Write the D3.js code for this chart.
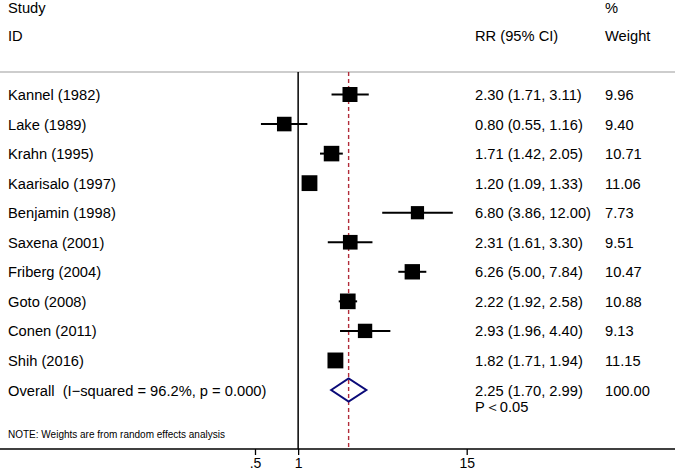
<!DOCTYPE html>
<html>
<head>
<meta charset="utf-8">
<script src="https://cdn.jsdelivr.net/npm/d3@7"></script>
<style>
  html, body { margin: 0; padding: 0; background: #fff; }
  svg { display: block; }
  text { font-family: "Liberation Sans", Helvetica, Arial, sans-serif; fill: #000; white-space: pre; }
</style>
</head>
<body>
<svg id="chart" width="675" height="472"></svg>
<script>
// ---- data ----
const studies = ["Kannel (1982)", "Lake (1989)", "Krahn (1995)", "Kaarisalo (1997)", "Benjamin (1998)",
                 "Saxena (2001)", "Friberg (2004)", "Goto (2008)", "Conen (2011)", "Shih (2016)"];
const rr     = [2.30, 0.80, 1.71, 1.20, 6.80, 2.31, 6.26, 2.22, 2.93, 1.82];
const lower  = [1.71, 0.55, 1.42, 1.09, 3.86, 1.61, 5.00, 1.92, 1.96, 1.71];
const upper  = [3.11, 1.16, 2.05, 1.33, 12.00, 3.30, 7.84, 2.58, 4.40, 1.94];
const weights = [9.96, 9.40, 10.71, 11.06, 7.73, 9.51, 10.47, 10.88, 9.13, 11.15];
const overallLabel = "Overall  (I\u2212squared = 96.2%, p = 0.000)";
const overall = {rr: 2.25, lo: 1.70, hi: 2.99, weight: 100.00};
const pText = "P\uFF1C0.05";
const noteText = "NOTE: Weights are from random effects analysis";
const tickValues = [0.5, 1, 15];
const tickLabels = [".5", "1", "15"];

// ---- layout ----
const W = 675, H = 472;
const svg = d3.select("#chart");
const x = d3.scaleLog().domain([0.5, 15]).range([255, 466.7]);
const y = d3.scaleLinear().domain([0, studies.length]).range([94.5, 390]);
const fs = "14.7px";
const colRR = 475, colW = 605, colL = 8;
const topRule = 72, axisY = 449;

// headers
const hdr = [
  {t: "Study", x: colL, y: 13}, {t: "ID", x: colL, y: 41},
  {t: "RR (95% CI)", x: colRR, y: 41}, {t: "%", x: colW, y: 13}, {t: "Weight", x: colW, y: 41}
];
svg.selectAll("text.hdr").data(hdr).join("text").attr("class", "hdr")
  .attr("x", d => d.x).attr("y", d => d.y).style("font-size", fs).text(d => d.t);

// top rule
svg.append("line").attr("x1", 0).attr("x2", W).attr("y1", topRule).attr("y2", topRule)
  .attr("stroke", "#bdbdbd").attr("stroke-width", 1.5);

// null line at 1
svg.append("line").attr("x1", x(1)).attr("x2", x(1)).attr("y1", topRule).attr("y2", axisY)
  .attr("stroke", "#000").attr("stroke-width", 1.5);

// overall dashed line
svg.append("line").attr("x1", x(overall.rr)).attr("x2", x(overall.rr)).attr("y1", topRule).attr("y2", axisY)
  .attr("stroke", "#b22c3a").attr("stroke-width", 1.4).attr("stroke-dasharray", "4,3");

// study rows
const rows = studies.map((s, i) => ({s, i, rr: rr[i], lo: lower[i], hi: upper[i], w: weights[i]}));
const f2 = d3.format(".2f");

const g = svg.append("g");
g.selectAll("line.ci").data(rows).join("line").attr("class", "ci")
  .attr("x1", d => x(d.lo)).attr("x2", d => x(d.hi))
  .attr("y1", d => y(d.i)).attr("y2", d => y(d.i))
  .attr("stroke", "#000").attr("stroke-width", 2);
const side = d => 4.75 * Math.sqrt(d.w);
g.selectAll("rect.box").data(rows).join("rect").attr("class", "box")
  .attr("x", d => x(d.rr) - side(d) / 2).attr("y", d => y(d.i) - side(d) / 2)
  .attr("width", side).attr("height", side).attr("fill", "#000");

g.selectAll("text.study").data(rows).join("text").attr("class", "study")
  .attr("x", colL).attr("y", d => y(d.i) + 5.5).style("font-size", fs).text(d => d.s);
g.selectAll("text.est").data(rows).join("text").attr("class", "est")
  .attr("x", colRR).attr("y", d => y(d.i) + 5.5).style("font-size", fs)
  .text(d => `${f2(d.rr)} (${f2(d.lo)}, ${f2(d.hi)})`);
g.selectAll("text.wt").data(rows).join("text").attr("class", "wt")
  .attr("x", colW).attr("y", d => y(d.i) + 5.5).style("font-size", fs).text(d => f2(d.w));

// overall
const oy = y(studies.length);
svg.append("path")
  .attr("d", `M${x(overall.lo)},${oy} L${x(overall.rr)},${oy - 11.5} L${x(overall.hi)},${oy} L${x(overall.rr)},${oy + 11.5} Z`)
  .attr("fill", "none").attr("stroke", "#0a0a78").attr("stroke-width", 2);
svg.append("text").attr("x", colL).attr("y", oy + 5.5).attr("xml:space", "preserve")
  .style("font-size", fs).text(overallLabel);
svg.append("text").attr("x", colRR).attr("y", oy + 5.5).style("font-size", fs)
  .text(`${f2(overall.rr)} (${f2(overall.lo)}, ${f2(overall.hi)})`);
svg.append("text").attr("x", colW).attr("y", oy + 5.5).style("font-size", fs).text(f2(overall.weight));
svg.append("text").attr("x", colRR).attr("y", oy + 22).style("font-size", fs).text(pText);

// note
svg.append("text").attr("x", colL).attr("y", 438).style("font-size", "10px").text(noteText);

// axis
svg.append("line").attr("x1", 0).attr("x2", W).attr("y1", axisY).attr("y2", axisY)
  .attr("stroke", "#000").attr("stroke-width", 1.3);
const axis = d3.axisBottom(x).tickValues(tickValues)
  .tickFormat((d, i) => tickLabels[i]).tickSize(6).tickPadding(8);
const ag = svg.append("g").attr("transform", `translate(0,${axisY})`).call(axis);
ag.select(".domain").remove();
ag.selectAll(".tick line").attr("stroke", "#000").attr("stroke-width", 1.3);
ag.selectAll(".tick text").style("font-size", "14px")
  .attr("y", 18.5).attr("dy", 0)
  .style("font-family", "'Liberation Sans', Helvetica, Arial, sans-serif").attr("fill", "#000");
</script>
</body>
</html>
